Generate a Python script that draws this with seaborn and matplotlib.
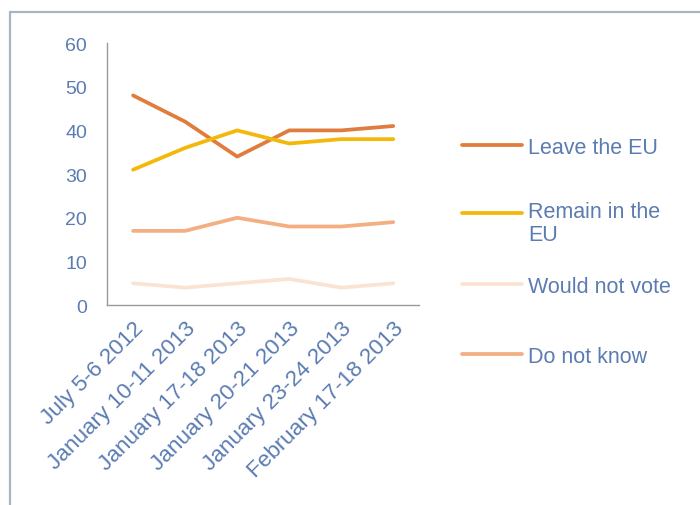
import matplotlib
matplotlib.use("Agg")
import matplotlib.pyplot as plt
from matplotlib.lines import Line2D
import seaborn as sns
import pandas as pd
import numpy as np

dates = ["July 5-6 2012", "January 10-11 2013", "January 17-18 2013",
         "January 20-21 2013", "January 23-24 2013", "February 17-18 2013"]
leave = [48, 42, 34, 40, 40, 41]
remain = [31, 36, 40, 37, 38, 38]
would_not_vote = [5, 4, 5, 6, 4, 5]
do_not_know = [17, 17, 20, 18, 18, 19]

series_names = ["Leave the EU", "Remain in the EU", "Would not vote", "Do not know"]
legend_labels = ["Leave the EU", "Remain in the\nEU", "Would not vote", "Do not know"]
colors = ["#E07D3C", "#F4B80A", "#FBE3D4", "#F3AF82"]

rows = []
for name, vals in zip(series_names, [leave, remain, would_not_vote, do_not_know]):
    for i, v in enumerate(vals):
        rows.append({"pos": i, "value": v, "series": name})
df = pd.DataFrame(rows)

sns.set_style("white")
plt.rcParams['font.family'] = ['Liberation Sans', 'DejaVu Sans']

txt = "#5B7CB2"
axc = "#9A9A9A"

fig = plt.figure(figsize=(7.0, 5.06), dpi=100)
ax = fig.add_axes([0.153, 0.395, 0.446, 0.518])

sns.lineplot(data=df, x="pos", y="value", hue="series", hue_order=series_names,
             palette=dict(zip(series_names, colors)), linewidth=2.7, ax=ax,
             legend=False, sort=False)

ax.set_xlim(-0.5, len(dates) - 0.5)
ax.set_ylim(0, 60)
ax.set_yticks(range(0, 61, 10))
ax.set_xticks(np.arange(-0.5, len(dates), 1.0))
ax.set_xticklabels([])
ax.set_xticks(np.arange(len(dates)), minor=True)
ax.set_xticklabels(dates, minor=True, rotation=45, ha="right", va="top",
                   rotation_mode="anchor", color=txt, fontsize=16.2)
ax.tick_params(axis="x", which="minor", length=0, pad=9)
ax.tick_params(axis="x", which="major", length=4.5, width=1, color=axc, direction="out")
ax.tick_params(axis="y", length=4.5, width=1, color=axc, direction="out",
               labelcolor=txt, labelsize=14, pad=10)
ax.set_xlabel("")
ax.set_ylabel("")
for s in ["top", "right"]:
    ax.spines[s].set_visible(False)
for s in ["left", "bottom"]:
    ax.spines[s].set_color(axc)
    ax.spines[s].set_linewidth(1)

# legend (manual placement to mirror the original layout)
leg_y = [146, 214, 285, 355]
for lab, col, yp in zip(legend_labels, colors, leg_y):
    yf = 1 - yp / 506
    fig.add_artist(Line2D([462 / 700, 522 / 700], [yf, yf], color=col, linewidth=2.7,
                          transform=fig.transFigure))
    if "\n" in lab:
        fig.text(528 / 700, yf + 12.5 / 506, lab, color=txt, fontsize=15.5, va="top",
                 ha="left", linespacing=1.15)
    else:
        fig.text(528 / 700, yf, lab, color=txt, fontsize=15.5, va="center_baseline",
                 ha="left")

# outer chart border (cropped frame)
bc = "#A9B4C2"
fig.add_artist(Line2D([10 / 700, 1.0], [1 - 12.5 / 506, 1 - 12.5 / 506], color=bc,
                      linewidth=1.6, transform=fig.transFigure))
fig.add_artist(Line2D([10 / 700, 10 / 700], [0, 1 - 12.5 / 506], color=bc,
                      linewidth=1.6, transform=fig.transFigure))

fig.savefig("out.png", dpi=100)
